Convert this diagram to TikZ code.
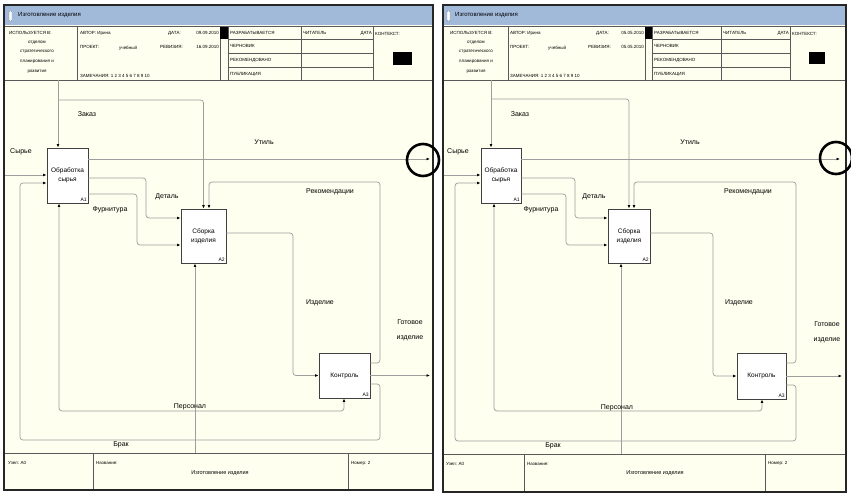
\documentclass[tikz,border=0pt]{standalone}
\usepackage{fontspec}
\setmainfont{Liberation Sans}
\usetikzlibrary{arrows.meta}

\definecolor{sheetcream}{RGB}{255,255,240}
\definecolor{barblue}{RGB}{162,186,218}

\begin{document}
\begin{tikzpicture}[x=1pt,y=-1pt,
  sheet/.style={fill=sheetcream},
  titlebar/.style={fill=barblue},
  frame/.style={draw=black!85,line width=1.6pt},
  grid/.style={draw=black!65,line width=0.6pt},
  icon/.style={draw=black!50,fill=white,line width=0.4pt,rounded corners=0.8pt},
  ttl/.style={anchor=west,inner sep=0pt,font=\fontsize{6}{7}\selectfont},
  hdr/.style={inner sep=0pt,font=\fontsize{4.5}{5}\selectfont},
  ftr/.style={inner sep=0pt,font=\fontsize{4.5}{5}\selectfont},
  funcbox/.style={draw=black!75,fill=white,line width=0.8pt,align=center,
    inner sep=1pt,font=\fontsize{6.5}{9}\selectfont},
  boxid/.style={anchor=south east,inner sep=1.5pt,font=\fontsize{5}{6}\selectfont},
  con/.style={draw=black!38,line width=0.7pt,rounded corners=3pt,
    -{Latex[length=3.5pt,width=2.8pt,color=black]}},
  lbl/.style={inner sep=1pt,font=\fontsize{7}{8}\selectfont},
  hilite/.style={draw=black,line width=2.6pt}]
\useasboundingbox (0,0) rectangle (851,494);

% ---------------- left sheet ----------------
\fill[sheet] (4,5) rectangle (433,490);
\fill[titlebar] (4,5) rectangle (433,25);
\draw[icon] (9,11) rectangle (12,21);
\node[ttl] (ltitle) at (18,15) {Изготовление изделия};
% header grid
\draw[grid] (4,26) -- (433,26);
\draw[grid] (4,80) -- (433,80);
\draw[grid] (77,26) -- (77,80);
\draw[grid] (220,26) -- (220,80);
\draw[grid] (228,26) -- (228,80);
\draw[grid] (301,26) -- (301,80);
\draw[grid] (373,26) -- (373,80);
\draw[grid] (228,39) -- (373,39);
\draw[grid] (228,53) -- (373,53);
\draw[grid] (228,67) -- (373,67);
\fill[black] (220,27) rectangle (228,39);
\fill[black] (393,52) rectangle (412,65);
% header text
\node[hdr,anchor=west] (lused) at (9,33) {ИСПОЛЬЗУЕТСЯ В:};
\node[hdr] (lused1) at (37,43) {отделом};
\node[hdr] (lused2) at (37,52) {стратегического};
\node[hdr] (lused3) at (37,62) {планирования и};
\node[hdr] (lused4) at (37,72) {развития};
\node[hdr,anchor=west] (lauthor) at (80,33) {АВТОР: Ирина};
\node[hdr,anchor=west] (ldate) at (168,33) {ДАТА:};
\node[hdr,anchor=east] (ldatev) at (219,33) {09.09.2010};
\node[hdr,anchor=west] (lproj) at (80,47) {ПРОЕКТ:};
\node[hdr,anchor=west] (lprojv) at (119,48) {учебный};
\node[hdr,anchor=west] (lrev) at (160,47) {РЕВИЗИЯ:};
\node[hdr,anchor=east] (lrevv) at (219,47) {16.09.2010};
\node[hdr,anchor=west] (lnotes) at (80,76) {ЗАМЕЧАНИЯ: 1 2 3 4 5 6 7 8 9 10};
\node[hdr,anchor=west] (lwork) at (230,33) {РАЗРАБАТЫВАЕТСЯ};
\node[hdr,anchor=west] (ldraft) at (230,46) {ЧЕРНОВИК};
\node[hdr,anchor=west] (lrecom) at (230,60) {РЕКОМЕНДОВАНО};
\node[hdr,anchor=west] (lpubl) at (230,74) {ПУБЛИКАЦИЯ};
\node[hdr,anchor=west] (lreader) at (303,33) {ЧИТАТЕЛЬ};
\node[hdr,anchor=east] (lrdate) at (372,33) {ДАТА};
\node[hdr,anchor=west] (lcontext) at (375,34) {КОНТЕКСТ:};
% footer
\draw[grid] (4,453) -- (433,453);
\draw[grid] (93,453) -- (93,490);
\draw[grid] (348,453) -- (348,490);
\node[ftr,anchor=west] (lnode) at (8,463) {Узел: A0};
\node[ftr,anchor=west] (lname) at (96,463) {Название:};
\node[ftr,font=\fontsize{5.5}{6}\selectfont] (lnamev) at (220,473) {Изготовление изделия};
\node[ftr,anchor=west] (lnum) at (351,463) {Номер: 2};
% boxes
\node[funcbox,minimum width=41pt,minimum height=55pt] (lobr) at (67.5,175.5) {Обработка\\сырья};
\node[funcbox,minimum width=45pt,minimum height=54pt] (lsb) at (203.5,236) {Сборка\\изделия};
\node[funcbox,minimum width=51pt,minimum height=45pt] (lkon) at (344.5,375.5) {Контроль};
\node[boxid] (lobrid) at (lobr.south east) {A1};
\node[boxid] (lsbid) at (lsb.south east) {A2};
\node[boxid] (lkonid) at (lkon.south east) {A3};
% connectors
\coordinate (lzak) at (58,80);
\coordinate (lsyr) at (5,175);
\coordinate (lutil) at (430,159);
\coordinate (lgot) at (430,375.5);
\coordinate (lper) at (195,453);
\draw[con] (lzak) -- (lzak |- lobr.north);
\draw[con] (lzak |- 0,100) -| (lsb.north);
\draw[con] (lsyr) -- (lsyr -| lobr.west);
\draw[con] (lobr.east |- 0,159) -- (lutil);
\draw[con] (lobr.east |- 0,178) -| (146,218) -- (lsb.west |- 0,218);
\draw[con] (lobr.east |- 0,194) -| (137,245) -- (lsb.west |- 0,245);
\draw[con] (lsb.east |- 0,233) -| (293,375.5) -- (lkon.west);
\draw[con] (lkon.east |- 0,363) -| (380,182) -| ([xshift=5.5pt]lsb.north);
\draw[con] (lkon.east) -- (lgot);
\draw[con] (lkon.east |- 0,384) -| (380,440) -| (20,183) -- (lobr.west |- 0,183);
\draw[con] (lper) -- (lper |- lsb.south);
\draw[con] (lper |- 0,411) -| (lobr.south -| 59,0);
\draw[con] (lper |- 0,411) -| (lkon.south -| 344,0);
% labels
\node[lbl] (lzaklbl) at (87,114) {Заказ};
\node[lbl] (lsyrlbl) at (21,152) {Сырье};
\node[lbl] (lutillbl) at (264,142) {Утиль};
\node[lbl] (ldetlbl) at (167,197) {Деталь};
\node[lbl] (lfurlbl) at (110,210) {Фурнитура};
\node[lbl] (lreclbl) at (330,192) {Рекомендации};
\node[lbl] (lizdlbl) at (320,303) {Изделие};
\node[lbl,align=center,font=\fontsize{7}{15}\selectfont] (lgotlbl) at (410,330) {Готовое\\изделие};
\node[lbl] (lperlbl) at (190,407) {Персонал};
\node[lbl] (lbraklbl) at (121,445) {Брак};
\draw[frame] (4,5) rectangle (433,490);
\draw[hilite] (423,160) circle (16pt);

% ---------------- right sheet ----------------
\fill[sheet] (443,5) rectangle (846,492);
\fill[titlebar] (443,5) rectangle (846,25);
\draw[icon] (447,11) rectangle (450,21);
\node[ttl] (rtitle) at (455,15) {Изготовление изделия};
% header grid
\draw[grid] (443,26) -- (846,26);
\draw[grid] (443,80) -- (846,80);
\draw[grid] (508,26) -- (508,80);
\draw[grid] (645,26) -- (645,80);
\draw[grid] (652,26) -- (652,80);
\draw[grid] (721,26) -- (721,80);
\draw[grid] (790,26) -- (790,80);
\draw[grid] (652,39) -- (790,39);
\draw[grid] (652,53) -- (790,53);
\draw[grid] (652,67) -- (790,67);
\fill[black] (645,27) rectangle (652,39);
\fill[black] (809,52) rectangle (825,64);
% header text
\node[hdr,anchor=west] (rused) at (450,33) {ИСПОЛЬЗУЕТСЯ В:};
\node[hdr] (rused1) at (476,43) {отделом};
\node[hdr] (rused2) at (476,52) {стратегического};
\node[hdr] (rused3) at (476,62) {планирования и};
\node[hdr] (rused4) at (476,72) {развития};
\node[hdr,anchor=west] (rauthor) at (510,33) {АВТОР: Ирина};
\node[hdr,anchor=west] (rdate) at (596,33) {ДАТА:};
\node[hdr,anchor=east] (rdatev) at (644,33) {05.05.2010};
\node[hdr,anchor=west] (rproj) at (510,47) {ПРОЕКТ:};
\node[hdr,anchor=west] (rprojv) at (548,48) {учебный};
\node[hdr,anchor=west] (rrev) at (588,47) {РЕВИЗИЯ:};
\node[hdr,anchor=east] (rrevv) at (644,47) {05.05.2010};
\node[hdr,anchor=west] (rnotes) at (510,76) {ЗАМЕЧАНИЯ: 1 2 3 4 5 6 7 8 9 10};
\node[hdr,anchor=west] (rwork) at (654,33) {РАЗРАБАТЫВАЕТСЯ};
\node[hdr,anchor=west] (rdraft) at (654,46) {ЧЕРНОВИК};
\node[hdr,anchor=west] (rrecom) at (654,60) {РЕКОМЕНДОВАНО};
\node[hdr,anchor=west] (rpubl) at (654,74) {ПУБЛИКАЦИЯ};
\node[hdr,anchor=west] (rreader) at (723,33) {ЧИТАТЕЛЬ};
\node[hdr,anchor=east] (rrdate) at (789,33) {ДАТА};
\node[hdr,anchor=west] (rcontext) at (792,34) {КОНТЕКСТ:};
% footer
\draw[grid] (443,454) -- (846,454);
\draw[grid] (524,454) -- (524,492);
\draw[grid] (765,454) -- (765,492);
\node[ftr,anchor=west] (rnode) at (446,464) {Узел: A0};
\node[ftr,anchor=west] (rname) at (527,464) {Название:};
\node[ftr,font=\fontsize{5.5}{6}\selectfont] (rnamev) at (655,473) {Изготовление изделия};
\node[ftr,anchor=west] (rnum) at (768,463) {Номер: 2};
% boxes
\node[funcbox,minimum width=40pt,minimum height=55pt] (robr) at (501,175.5) {Обработка\\сырья};
\node[funcbox,minimum width=42pt,minimum height=54pt] (rsb) at (629,236) {Сборка\\изделия};
\node[funcbox,minimum width=49pt,minimum height=46pt] (rkon) at (761.5,376) {Контроль};
\node[boxid] (robrid) at (robr.south east) {A1};
\node[boxid] (rsbid) at (rsb.south east) {A2};
\node[boxid] (rkonid) at (rkon.south east) {A3};
% connectors
\coordinate (rzak) at (491,80);
\coordinate (rsyr) at (444,175);
\coordinate (rutil) at (840,159);
\coordinate (rgot) at (842,376);
\coordinate (rper) at (621,454);
\draw[con] (rzak) -- (rzak |- robr.north);
\draw[con] (rzak |- 0,99) -| (rsb.north);
\draw[con] (rsyr) -- (rsyr -| robr.west);
\draw[con] (robr.east |- 0,159) -- (rutil);
\draw[con] (robr.east |- 0,178) -| (575,218) -- (rsb.west |- 0,218);
\draw[con] (robr.east |- 0,194) -| (566,245) -- (rsb.west |- 0,245);
\draw[con] (rsb.east |- 0,233) -| (713,376) -- (rkon.west);
\draw[con] (rkon.east |- 0,363) -| (796,182) -| ([xshift=5pt]rsb.north);
\draw[con] (rkon.east) -- (rgot);
\draw[con] (rkon.east |- 0,385) -| (796,441) -| (455,183) -- (robr.west |- 0,183);
\draw[con] (rper) -- (rper |- rsb.south);
\draw[con] (rper |- 0,411) -| (robr.south -| 494,0);
\draw[con] (rper |- 0,411) -| (rkon.south -| 762,0);
% labels
\node[lbl] (rzaklbl) at (520,114) {Заказ};
\node[lbl] (rsyrlbl) at (458,152) {Сырье};
\node[lbl] (rutillbl) at (690,142) {Утиль};
\node[lbl] (rdetlbl) at (594,197) {Деталь};
\node[lbl] (rfurlbl) at (541,210) {Фурнитура};
\node[lbl] (rreclbl) at (748,192) {Рекомендации};
\node[lbl] (rizdlbl) at (739,303) {Изделие};
\node[lbl,align=center,font=\fontsize{7}{15}\selectfont] (rgotlbl) at (827,332) {Готовое\\изделие};
\node[lbl] (rperlbl) at (617,408) {Персонал};
\node[lbl] (rbraklbl) at (553,446) {Брак};
\draw[frame] (443,5) rectangle (846,492);
\draw[hilite] (836,158) circle (16pt);
\end{tikzpicture}
\end{document}
